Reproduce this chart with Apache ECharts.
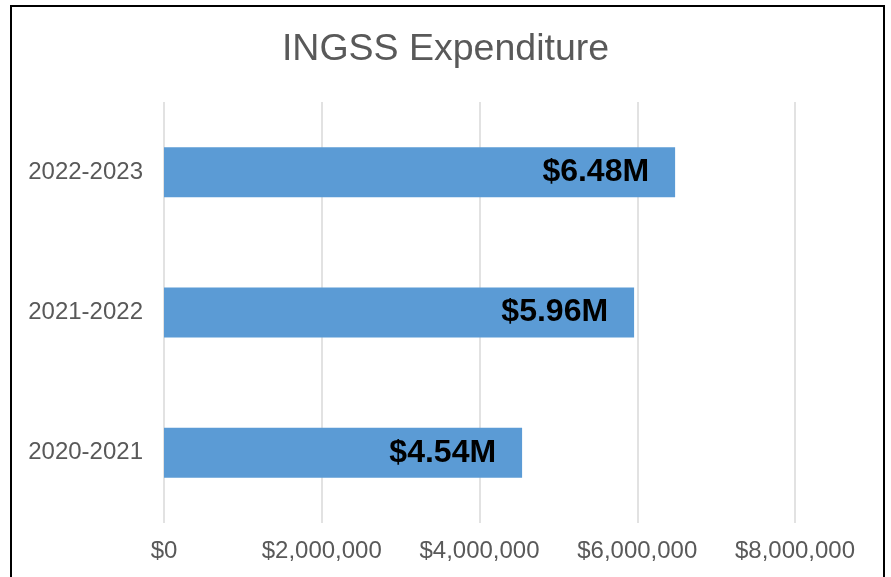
<!DOCTYPE html>
<html><head><meta charset="utf-8">
<script src="https://cdn.jsdelivr.net/npm/echarts@6/dist/echarts.min.js"></script>
<style>html,body{margin:0;padding:0;background:#fff}#c{width:891px;height:577px}</style>
</head><body><div id="c"></div>
<script>
const categories = ['2020-2021', '2021-2022', '2022-2023'];
const values = [4540000, 5960000, 6480000];
const valueLabels = ['$4.54M', '$5.96M', '$6.48M'];
const xTicks = [0, 2000000, 4000000, 6000000, 8000000];

const chart = echarts.init(document.getElementById('c'));
chart.setOption({
  animation: false,
  backgroundColor: '#fff',
  title: {
    text: 'INGSS Expenditure', left: 'center', top: 26,
    textStyle: { fontFamily: 'Liberation Sans, Arial', fontSize: 37.5, fontWeight: 'normal', color: '#595959' }
  },
  graphic: [{
    type: 'rect', shape: { x: 11, y: 6, width: 873, height: 620 },
    style: { fill: 'none', stroke: '#000', lineWidth: 2 }, z: 100
  }],
  grid: { left: 164, right: 96, top: 102, bottom: 54 },
  xAxis: {
    type: 'value', min: 0, max: 8000000, interval: 2000000,
    axisLine: { show: false }, axisTick: { show: false },
    splitLine: { lineStyle: { color: '#d9d9d9', width: 1.5 } },
    axisLabel: {
      margin: 16, color: '#595959', fontSize: 24, fontFamily: 'Liberation Sans, Arial',
      formatter: v => '$' + v.toLocaleString('en-US')
    }
  },
  yAxis: {
    type: 'category', data: categories,
    axisLine: { show: false }, axisTick: { show: false },
    axisLabel: { margin: 21, color: '#595959', fontSize: 24, fontFamily: 'Liberation Sans, Arial' }
  },
  series: [{
    type: 'bar', data: values, barWidth: 50,
    itemStyle: { color: '#5B9BD5' },
    label: {
      show: true, position: 'insideRight', distance: 26,
      formatter: p => valueLabels[p.dataIndex],
      color: '#000', fontSize: 32, fontWeight: 'bold', fontFamily: 'Liberation Sans, Arial'
    }
  }]
});
</script></body></html>
